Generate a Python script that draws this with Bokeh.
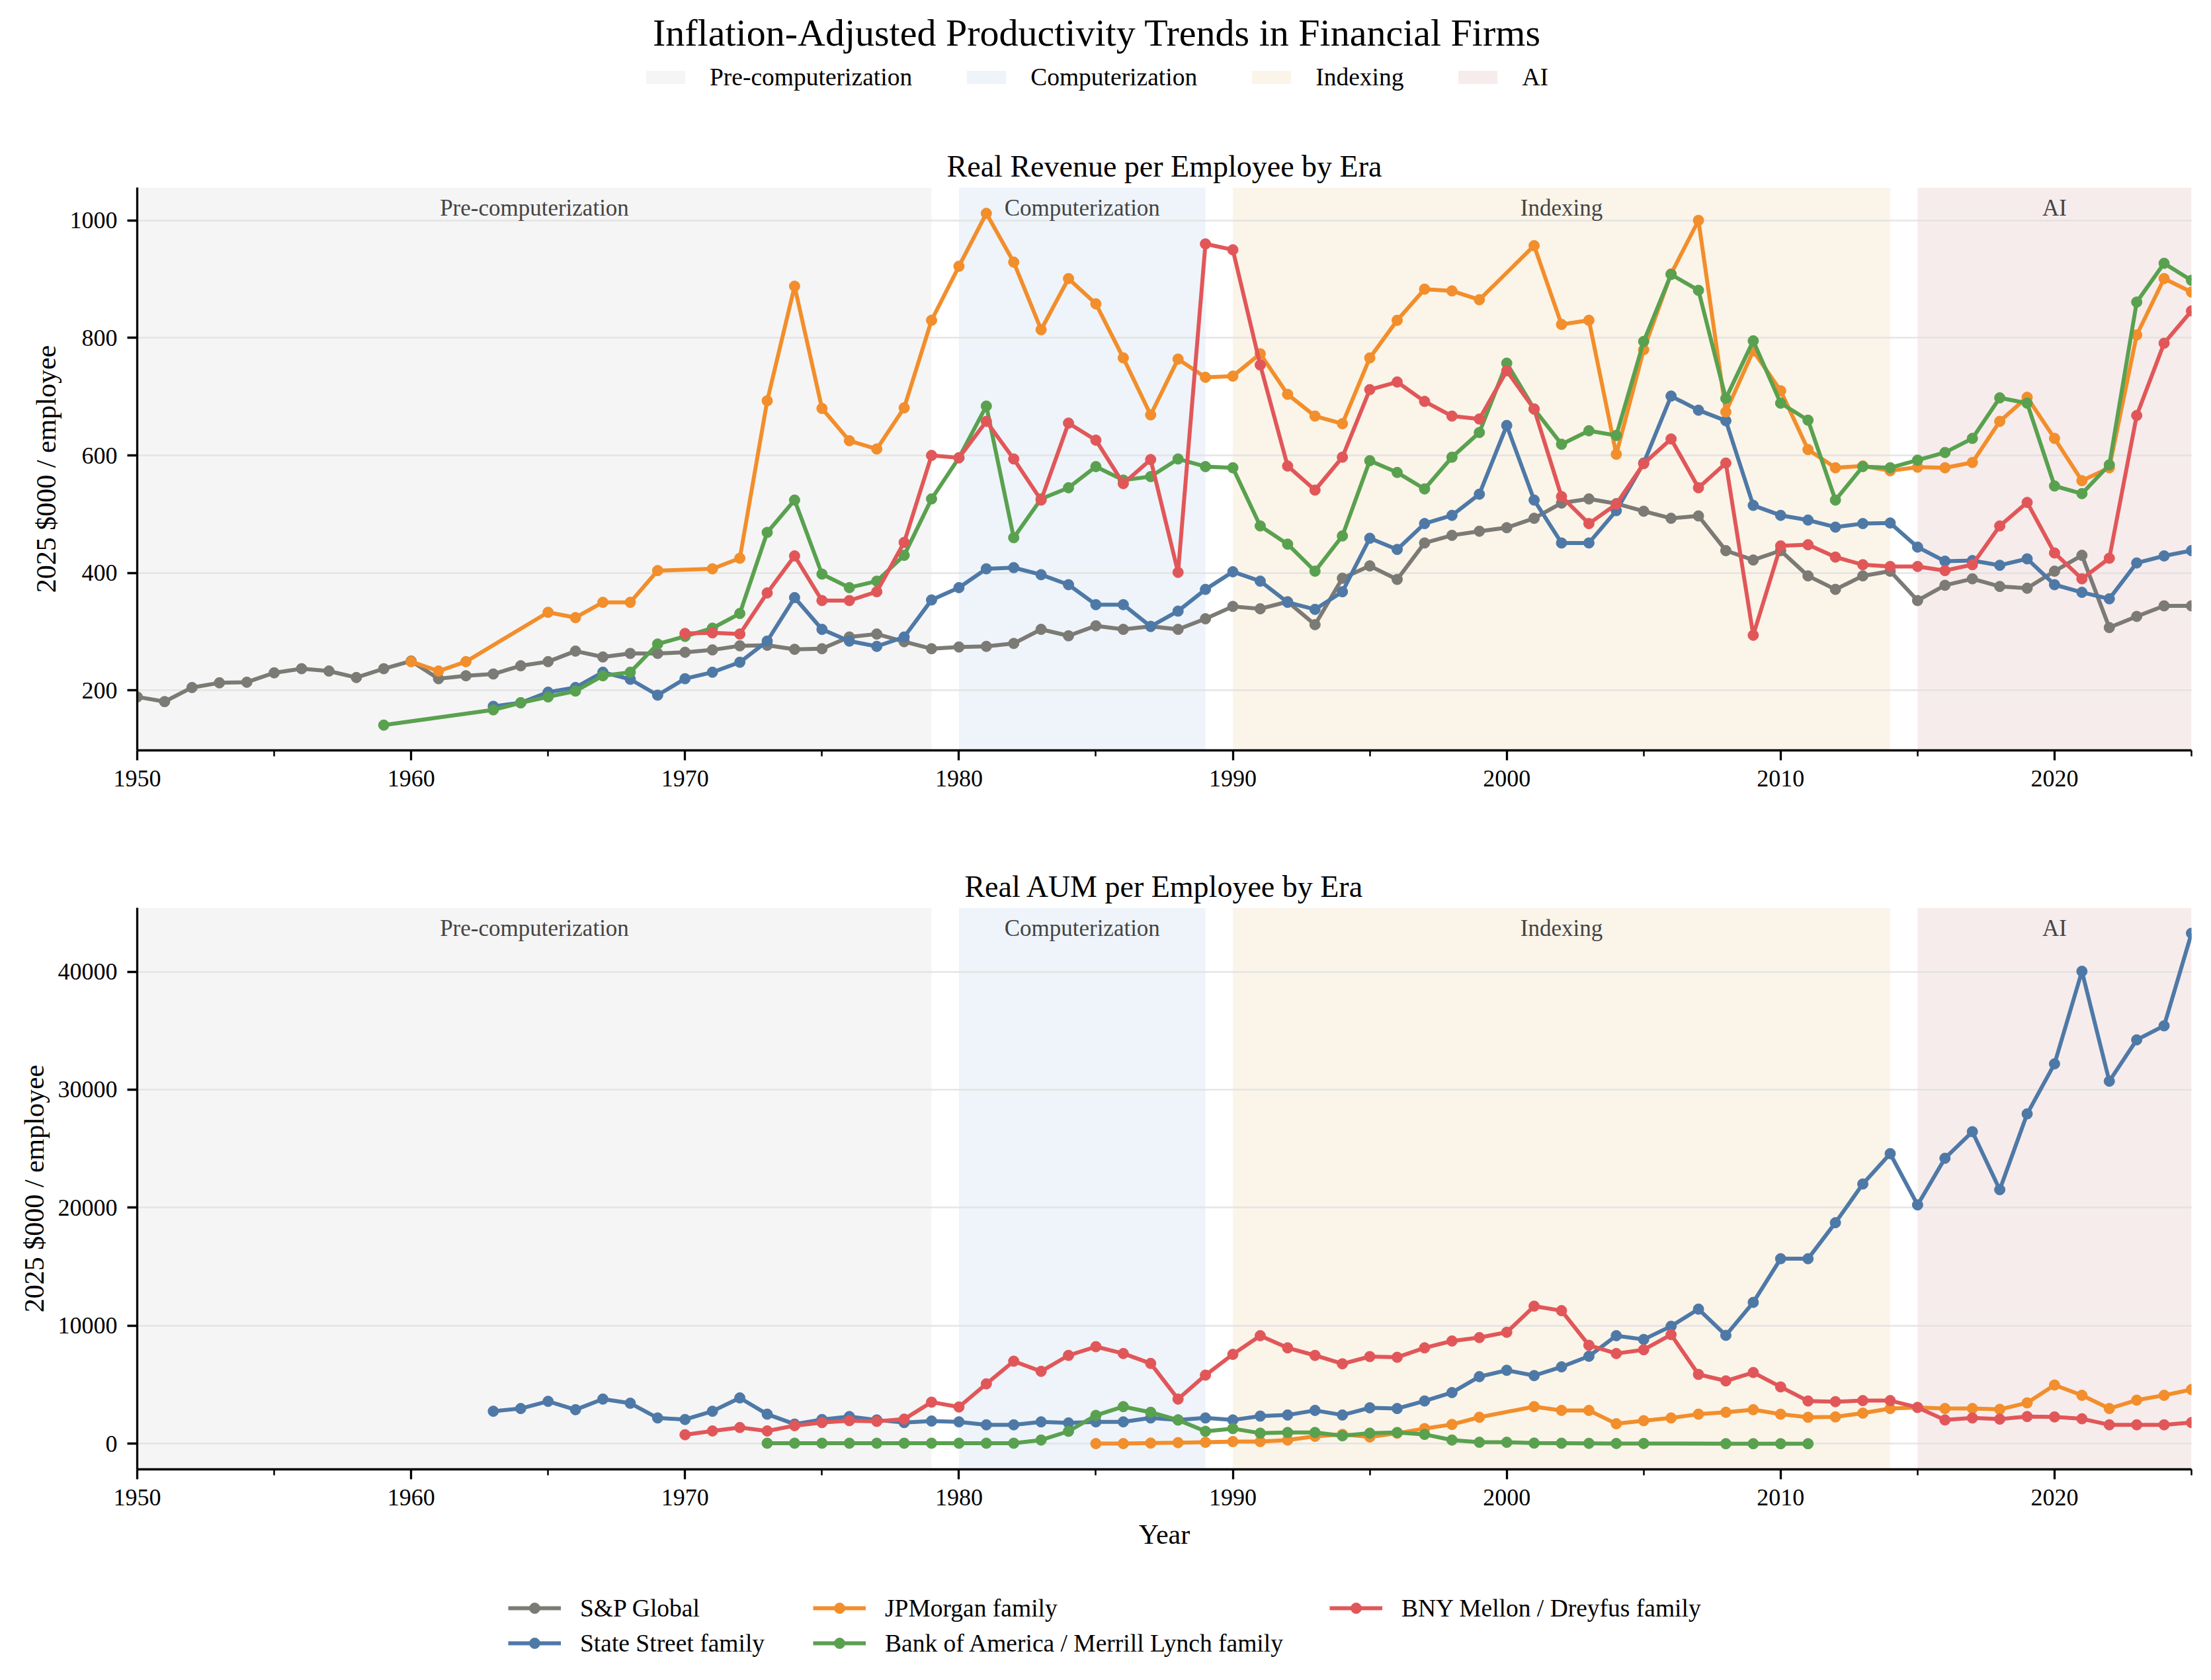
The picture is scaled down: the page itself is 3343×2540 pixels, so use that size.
from bokeh.plotting import figure
from bokeh.models import Range1d, FixedTicker, BoxAnnotation, Label, Legend, LegendItem
from bokeh.layouts import column
from bokeh.embed import file_html
from bokeh.resources import INLINE

FONT = "Liberation Serif"
W = 3327
BL = 207   # left border (frame start), shared by every figure
BR = 14    # right border
NAN = float("nan")

# ---------------- data ----------------
eras = ["Pre-computerization", "Computerization", "Indexing", "AI"]
era_start = [1950, 1980, 1990, 2015]
era_end = [1979, 1989, 2014, 2025]
era_colors = ["#f5f5f5", "#eef4f9", "#fbf4e9", "#f7ecec"]

series_names = ["S&P Global", "State Street family", "JPMorgan family",
                "Bank of America / Merrill Lynch family", "BNY Mellon / Dreyfus family"]
series_colors = ["#7b7a75", "#4e79a7", "#f28e2b", "#59a14f", "#e15759"]

x_major = [1950, 1960, 1970, 1980, 1990, 2000, 2010, 2020]
x_minor = [1955, 1965, 1975, 1985, 1995, 2005, 2015, 2025]
rev_ticks = [200, 400, 600, 800, 1000]
aum_ticks = [0, 10000, 20000, 30000, 40000]

# Real revenue per employee (2025 $000)
sp_rev_years = list(range(1950, 2026))
sp_rev = [189, 181, 205, 213, 214, 230, 237, 233, 222, 237,
          250, 220, 225, 228, 242, 249, 267, 257, 263, 263,
          265, 269, 276, 277, 270, 271, 291, 296, 283, 271,
          274, 275, 280, 304, 293, 310, 304, 309, 304, 322,
          343, 339, 351, 312, 391, 412, 389, 451, 464, 471,
          477, 493, 519, 526, 518, 505, 493, 497, 438, 422,
          438, 395, 372, 395, 403, 353, 379, 390, 377, 374,
          403, 430, 307, 326, 344, 344]

ss_rev_years = list(range(1963, 2026))
ss_rev = [173, 179, 197, 205, 231, 219, 192,
          220, 231, 248, 284, 358, 304, 284, 275, 291, 354,
          375, 407, 409, 397, 380, 346, 346, 309, 335, 372,
          402, 386, 350, 338, 368, 459, 440, 484, 498, 534,
          651, 524, 451, 451, 506, 587, 701, 677, 659, 515,
          498, 490, 478, 484, 485, 444, 420, 421, 413, 424,
          380, 367, 356, 417, 429, 438]

jpm_rev_years = [1960, 1961, 1962] + list(range(1965, 1970)) + list(range(1971, 2000)) + list(range(2001, 2026))
jpm_rev = [249, 233, 249,
           333, 324, 350, 350, 404,
           407, 425, 693, 888, 680, 625, 611, 681, 830,
           922, 1012, 929, 814, 901, 858, 766, 669, 764, 733,
           735, 773, 704, 667, 654, 766, 830, 883, 880, 865,
           957, 823, 830, 602, 780, 909, 1000, 674, 778,
           710, 610, 579, 582, 574, 580, 579, 588, 658, 699,
           629, 557, 579, 805, 901, 878]

bac_rev_years = [1959] + list(range(1963, 2026))
bac_rev = [141,
           167, 179, 189, 199, 225, 231, 279,
           292, 306, 331, 469, 524, 398, 375, 386, 430, 526,
           596, 684, 460, 526, 545, 581, 558, 564, 594, 581,
           579, 480, 449, 403, 463, 591, 571, 543, 597, 639,
           757, 679, 619, 642, 634, 794, 908, 881, 697, 795,
           689, 660, 524, 581, 579, 592, 605, 629, 698, 689,
           548, 535, 584, 861, 927, 898]

bny_rev_years = list(range(1970, 2026))
bny_rev = [297, 298, 296, 366, 429, 353, 353, 368, 452, 600,
           596, 658, 594, 524, 655, 626, 552, 593, 401, 960,
           950, 754, 582, 541, 597, 712, 725, 692, 667, 662,
           744, 679, 530, 484, 517, 586, 628, 545, 587, 294,
           446, 448, 427, 414, 411, 411, 404, 414, 480, 520,
           434, 390, 425, 668, 791, 846]

# Real AUM per employee (2025 $000)
ss_aum_years = list(range(1963, 2026))
ss_aum = [2760, 2990, 3600, 2890, 3790, 3440, 2190,
          2060, 2760, 3890, 2510, 1670, 2060, 2310, 2020, 1800, 1930,
          1860, 1610, 1610, 1860, 1770, 1860, 1860, 2190, 2020, 2190,
          2020, 2350, 2440, 2830, 2440, 3050, 2990, 3630, 4340, 5690,
          6230, 5780, 6520, 7420, 9160, 8840, 9960, 11410, 9190, 11980,
          15680, 15680, 18730, 22010, 24580, 20240, 24190, 26440, 21530, 27950,
          32190, 40030, 30720, 34220, 35410, 43250]

jpm_aum_years = list(range(1985, 2000)) + list(range(2001, 2026))
jpm_aum = [20, 20, 60, 100, 130,
           190, 190, 320, 640, 800, 580, 900, 1290, 1640, 2250,
           3150, 2830, 2830, 1700, 1960, 2190, 2510, 2670, 2890,
           2510, 2250, 2280, 2600, 2990, 3080, 2990, 2990, 2920, 3470,
           4980, 4110, 2990, 3700, 4110, 4600]

bac_aum_years = list(range(1973, 2006)) + list(range(2008, 2012))
bac_aum = [50, 50, 50, 50, 50, 50, 50,
           50, 50, 50, 320, 1060, 2410, 3150, 2670, 2020, 1060,
           1290, 900, 960, 960, 680, 900, 960, 800, 320, 130,
           130, 60, 50, 40, 30, 30,
           10, 10, 10, 10]

bny_aum_years = list(range(1970, 2026))
bny_aum = [770, 1090, 1380, 1090, 1540, 1800, 1960, 1900, 2090, 3530,
           3120, 5080, 7000, 6140, 7490, 8230, 7650, 6810, 3790, 5820,
           7580, 9160, 8130, 7490, 6780, 7390, 7330, 8130, 8710, 9000,
           9450, 11660, 11280, 8350, 7650, 7970, 9250, 5880, 5330, 6040,
           4820, 3630, 3570, 3660, 3660, 3080, 2020, 2190, 2090, 2310,
           2280, 2120, 1610, 1610, 1610, 1800]

rev_series = [(sp_rev_years, sp_rev), (ss_rev_years, ss_rev), (jpm_rev_years, jpm_rev),
              (bac_rev_years, bac_rev), (bny_rev_years, bny_rev)]
aum_series = [None, (ss_aum_years, ss_aum), (jpm_aum_years, jpm_aum),
              (bac_aum_years, bac_aum), (bny_aum_years, bny_aum)]

LINE_W = 6
MARK = 16


def blank_fig(height):
    f = figure(width=W, height=height, x_range=Range1d(0, 1), y_range=Range1d(0, 1),
               x_axis_type=None, y_axis_type=None, output_backend="svg", toolbar_location=None,
               min_border_top=0, min_border_bottom=0, min_border_left=BL, min_border_right=BR,
               outline_line_color=None, background_fill_color="white", border_fill_color="white")
    return f


def make_plot(title, height, top, bottom, y0, y1, yticks, series, xlabel=None):
    frame_h = height - top - bottom
    p = figure(width=W, height=height, x_range=Range1d(1950, 2025), y_range=Range1d(y0, y1),
               output_backend="svg", toolbar_location=None,
               min_border_top=top, min_border_bottom=bottom,
               min_border_left=BL, min_border_right=BR,
               background_fill_color="white", border_fill_color="white",
               outline_line_color=None)
    p.title.text = title
    p.title.text_font = FONT
    p.title.text_font_size = "46px"
    p.title.text_font_style = "normal"
    p.title.text_color = "black"
    p.title.align = "center"
    p.title.standoff = 13

    for name, s, e, c in zip(eras, era_start, era_end, era_colors):
        p.add_layout(BoxAnnotation(left=s, right=e, fill_color=c, fill_alpha=1.0,
                                   line_color=None, level="image"))
        p.add_layout(Label(x=(s + e) / 2, y=frame_h - 31, y_units="screen", text=name,
                           text_align="center", text_baseline="middle",
                           text_font=FONT, text_font_size="35px", text_color="#444444"))

    for ser, c in zip(series, series_colors):
        if ser is None:
            continue
        yrs, vals = ser
        p.line(yrs, vals, line_color=c, line_width=LINE_W, line_join="round")
        p.scatter(yrs, vals, size=MARK, fill_color=c, line_color=c)

    p.xgrid.visible = False
    p.ygrid.grid_line_color = "#dedede"
    p.ygrid.grid_line_width = 2.5
    p.ygrid.grid_line_alpha = 0.8

    p.xaxis.ticker = FixedTicker(ticks=x_major, minor_ticks=x_minor)
    p.yaxis.ticker = FixedTicker(ticks=yticks)
    for ax in (p.xaxis[0], p.yaxis[0]):
        ax.axis_line_color = "black"
        ax.axis_line_width = 3.3
        ax.major_tick_line_color = "black"
        ax.major_tick_line_width = 3.3
        ax.major_tick_out = 15
        ax.major_tick_in = 0
        ax.minor_tick_line_color = "black"
        ax.minor_tick_line_width = 2.5
        ax.minor_tick_out = 9
        ax.minor_tick_in = 0
        ax.major_label_text_font = FONT
        ax.major_label_text_font_size = "36px"
        ax.major_label_text_color = "black"
        ax.axis_label_text_font = FONT
        ax.axis_label_text_font_size = "42px"
        ax.axis_label_text_font_style = "normal"
        ax.axis_label_text_color = "black"
    p.yaxis.minor_tick_line_color = None
    p.yaxis.major_label_standoff = 15
    p.xaxis.major_label_standoff = 15
    p.yaxis.axis_label = "2025 $000 / employee"
    p.yaxis.axis_label_standoff = 10
    if xlabel:
        p.xaxis.axis_label = xlabel
        p.xaxis.axis_label_standoff = 18
    return p


# ---------------- header: title + era legend ----------------
HDR_H = 170
hdr = blank_fig(HDR_H)
hdr.add_layout(Label(x=1658 - BL, x_units="screen", y=121, y_units="screen",
                     text="Inflation-Adjusted Productivity Trends in Financial Firms",
                     text_align="center", text_baseline="alphabetic",
                     text_font=FONT, text_font_size="58px", text_color="black"))

era_items = []
for name, c in zip(eras, era_colors):
    r = hdr.quad(left=[NAN], right=[NAN], top=[NAN], bottom=[NAN], fill_color=c, line_color=None)
    era_items.append(LegendItem(label=name, renderers=[r]))
era_leg = Legend(items=era_items, orientation="horizontal", location=(969 - BL, 32),
                 glyph_width=74, glyph_height=25, label_standoff=30, spacing=75,
                 padding=0, margin=0, border_line_color=None, background_fill_alpha=0,
                 label_text_font=FONT, label_text_font_size="37.5px", label_text_color="black",
                 label_height=40)
hdr.add_layout(era_leg)

# ---------------- the two panels ----------------
p1 = make_plot("Real Revenue per Employee by Era", 1130, 113, 166, 98, 1056, rev_ticks, rev_series)
p2 = make_plot("Real AUM per Employee by Era", 1070, 72, 149, -2162, 45408, aum_ticks, aum_series,
               xlabel="Year")

# ---------------- bottom legend ----------------
lf = blank_fig(154)
items = []
for name, c in zip(series_names, series_colors):
    rl = lf.line(x=[NAN], y=[NAN], line_color=c, line_width=LINE_W)
    rs = lf.scatter(x=[NAN], y=[NAN], size=MARK, fill_color=c, line_color=c)
    items.append(LegendItem(label=name, renderers=[rl, rs]))

col_groups = [([items[0], items[1]], (768 - BL, 18.5)),
              ([items[2], items[3]], (1229 - BL, 18.5)),
              ([items[4]], (2010 - BL, 71.5))]
for its, loc in col_groups:
    lg = Legend(items=its, orientation="vertical", location=loc,
                glyph_width=80, glyph_height=40, label_standoff=29, spacing=10,
                padding=0, margin=0, border_line_color=None, background_fill_alpha=0,
                label_text_font=FONT, label_text_font_size="37.5px", label_text_color="black",
                label_height=40)
    lf.add_layout(lg)

layout = column(hdr, p1, p2, lf)
open("out.html", "w").write(file_html(layout, INLINE))
